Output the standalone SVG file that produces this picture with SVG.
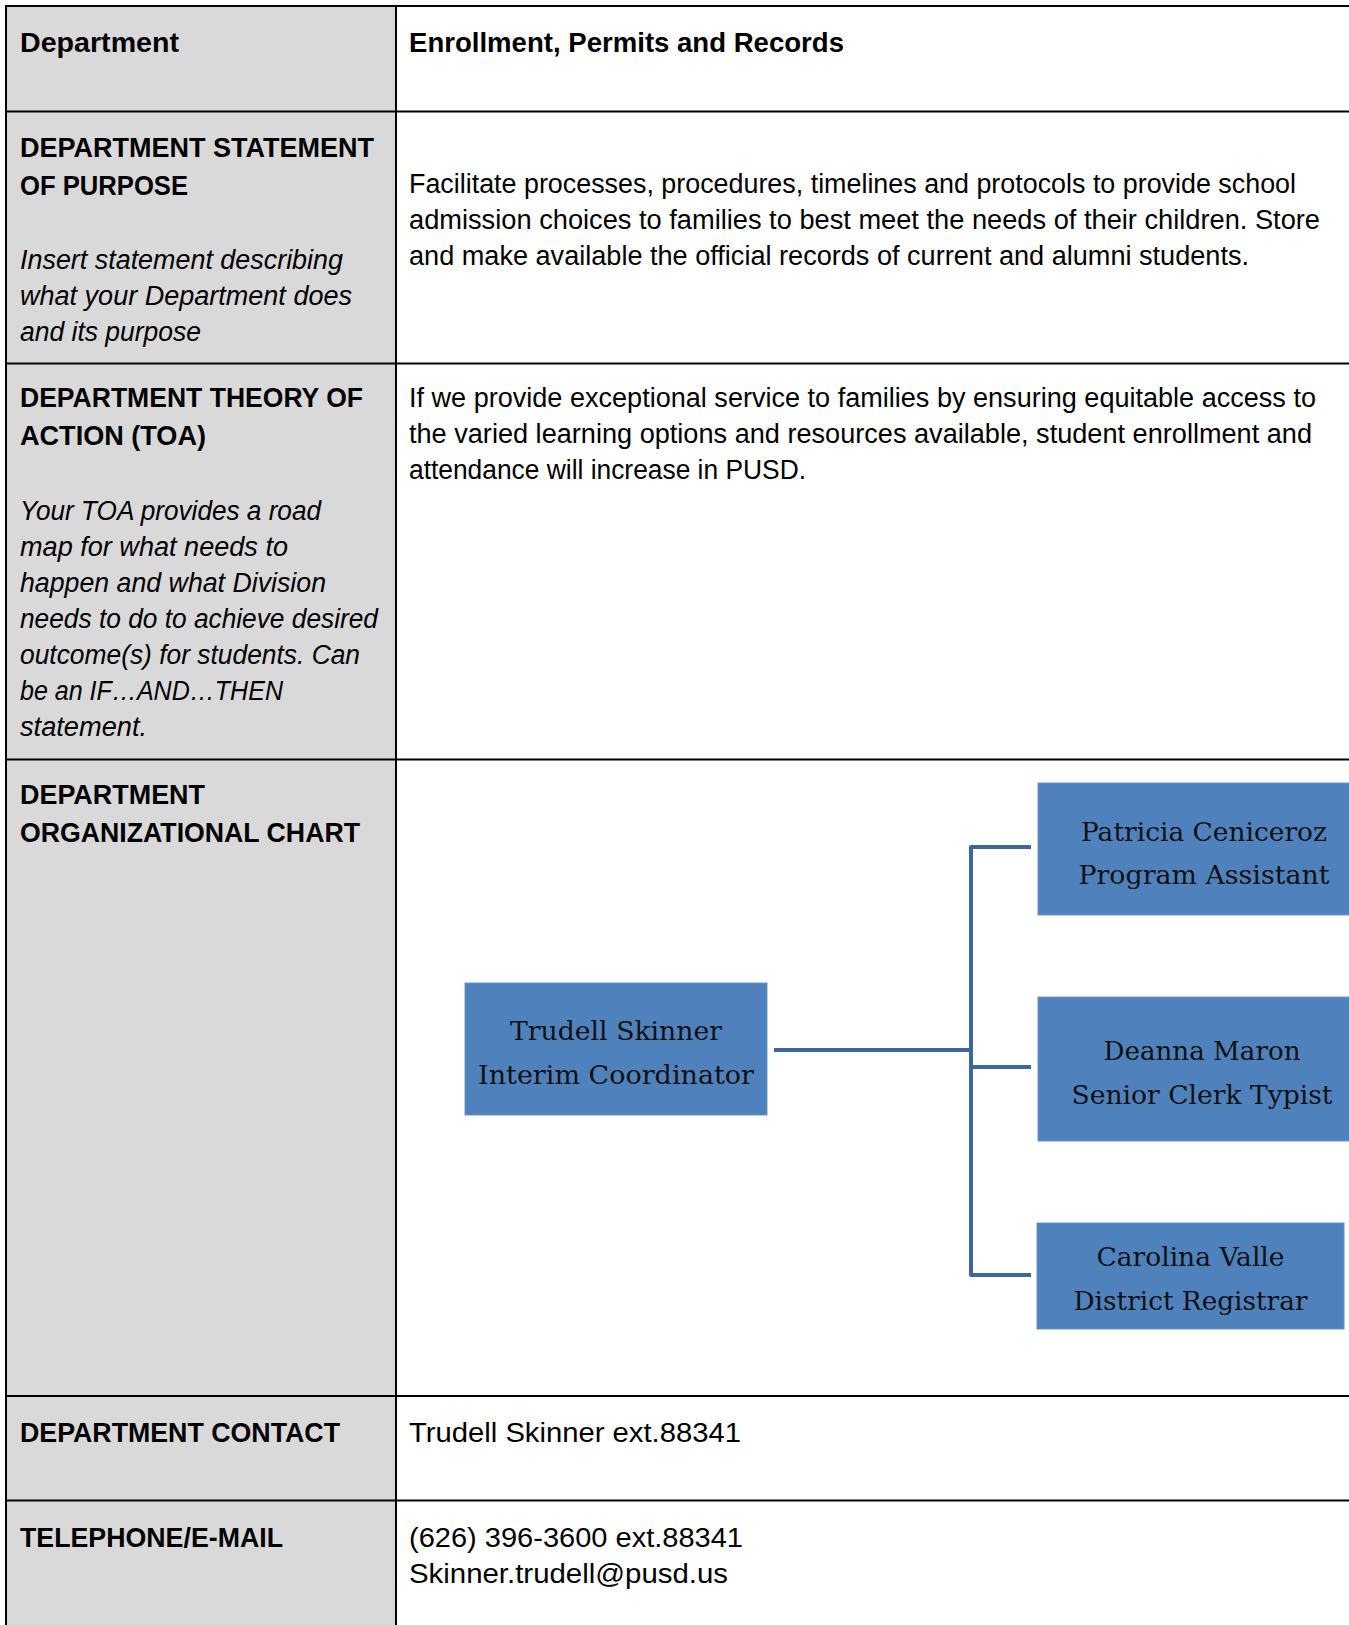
<svg xmlns="http://www.w3.org/2000/svg" width="1349" height="1625" viewBox="0 0 1349 1625">
<style>
.h{font-family:"Liberation Sans",Arial,sans-serif;font-weight:bold;font-size:27px;fill:#000}
.t{font-family:"Liberation Sans",Arial,sans-serif;font-size:27px;fill:#000}
.i{font-family:"Liberation Sans",Arial,sans-serif;font-style:italic;font-size:27px;fill:#000}
.b{font-family:"DejaVu Serif","Liberation Serif",serif;font-size:26.5px;fill:#111;text-anchor:middle}
.grid{stroke:#000;stroke-width:2;fill:none}
.box{fill:#4f81bd;stroke:#6b95c8;stroke-width:1}
.con{stroke:#3d679b;stroke-width:4;fill:none;stroke-linejoin:round}
</style>
<rect x="0" y="0" width="1349" height="1625" fill="#fff"/>
<g id="table">
<rect x="6" y="6" width="390" height="1619" fill="#d9d9d9"/>
<path class="grid" d="M5,6 H1349 M6,5 V1625 M396,6 V1625 M6,111.5 H1349 M6,363.5 H1349 M6,759.5 H1349 M6,1396 H1349 M6,1500.5 H1349"/>
</g>
<g id="row-department">
<text class="h" x="20" y="52" textLength="159" lengthAdjust="spacingAndGlyphs">Department</text>
<text class="h" x="409" y="52" textLength="435" lengthAdjust="spacingAndGlyphs">Enrollment, Permits and Records</text>
</g>
<g id="row-purpose">
<text class="h" x="20" y="156.5" textLength="354" lengthAdjust="spacingAndGlyphs">DEPARTMENT STATEMENT</text>
<text class="h" x="20" y="194.5" textLength="168" lengthAdjust="spacingAndGlyphs">OF PURPOSE</text>
<text class="i" x="20" y="268.5" textLength="323" lengthAdjust="spacingAndGlyphs">Insert statement describing</text>
<text class="i" x="20" y="304.5" textLength="332" lengthAdjust="spacingAndGlyphs">what your Department does</text>
<text class="i" x="20" y="340.5" textLength="181" lengthAdjust="spacingAndGlyphs">and its purpose</text>
<text class="t" x="409" y="192.5" textLength="887" lengthAdjust="spacingAndGlyphs">Facilitate processes, procedures, timelines and protocols to provide school</text>
<text class="t" x="409" y="228.5" textLength="911" lengthAdjust="spacingAndGlyphs">admission choices to families to best meet the needs of their children.  Store</text>
<text class="t" x="409" y="264.5" textLength="840" lengthAdjust="spacingAndGlyphs">and make available the official records of current and alumni students.</text>
</g>
<g id="row-toa">
<text class="h" x="20" y="407" textLength="343" lengthAdjust="spacingAndGlyphs">DEPARTMENT THEORY OF</text>
<text class="h" x="20" y="445" textLength="186" lengthAdjust="spacingAndGlyphs">ACTION (TOA)</text>
<text class="i" x="20" y="520" textLength="301" lengthAdjust="spacingAndGlyphs">Your TOA provides a road</text>
<text class="i" x="20" y="556" textLength="268" lengthAdjust="spacingAndGlyphs">map for what needs to</text>
<text class="i" x="20" y="592" textLength="306" lengthAdjust="spacingAndGlyphs">happen and what Division</text>
<text class="i" x="20" y="628" textLength="358" lengthAdjust="spacingAndGlyphs">needs to do to achieve desired</text>
<text class="i" x="20" y="664" textLength="340" lengthAdjust="spacingAndGlyphs">outcome(s) for students. Can</text>
<text class="i" x="20" y="700" textLength="263" lengthAdjust="spacingAndGlyphs">be an IF…AND…THEN</text>
<text class="i" x="20" y="736" textLength="127" lengthAdjust="spacingAndGlyphs">statement.</text>
<text class="t" x="409" y="407" textLength="907" lengthAdjust="spacingAndGlyphs">If we provide exceptional service to families by ensuring equitable access  to</text>
<text class="t" x="409" y="443" textLength="903" lengthAdjust="spacingAndGlyphs">the varied learning options and resources available, student enrollment and</text>
<text class="t" x="409" y="478.5" textLength="397" lengthAdjust="spacingAndGlyphs">attendance will increase in PUSD.</text>
</g>
<g id="row-org">
<text class="h" x="20" y="804" textLength="185" lengthAdjust="spacingAndGlyphs">DEPARTMENT</text>
<text class="h" x="20" y="842" textLength="340" lengthAdjust="spacingAndGlyphs">ORGANIZATIONAL CHART</text>
</g>
<g id="connectors">
<path class="con" d="M774,1050 H971"/>
<path class="con" d="M1031,847 H971 V1275 H1031"/>
<path class="con" d="M971,1067 H1031"/>
</g>
<g id="node-trudell">
<rect class="box" x="465" y="983" width="302" height="132"/>
<text class="b" x="616" y="1040" textLength="212" lengthAdjust="spacingAndGlyphs">Trudell Skinner</text>
<text class="b" x="616" y="1084" textLength="276" lengthAdjust="spacingAndGlyphs">Interim Coordinator</text>
</g>
<g id="node-patricia">
<rect class="box" x="1038" y="783" width="330" height="132"/>
<text class="b" x="1204" y="840.5" textLength="246" lengthAdjust="spacingAndGlyphs">Patricia Ceniceroz</text>
<text class="b" x="1204" y="883.5" textLength="251" lengthAdjust="spacingAndGlyphs">Program Assistant</text>
</g>
<g id="node-deanna">
<rect class="box" x="1038" y="997" width="330" height="144"/>
<text class="b" x="1202" y="1059.5" textLength="197" lengthAdjust="spacingAndGlyphs">Deanna Maron</text>
<text class="b" x="1202" y="1103.5" textLength="261" lengthAdjust="spacingAndGlyphs">Senior Clerk Typist</text>
</g>
<g id="node-carolina">
<rect class="box" x="1037" y="1223" width="307" height="106"/>
<text class="b" x="1190.5" y="1265.5" textLength="188" lengthAdjust="spacingAndGlyphs">Carolina Valle</text>
<text class="b" x="1190.5" y="1310" textLength="234" lengthAdjust="spacingAndGlyphs">District Registrar</text>
</g>
<g id="row-contact">
<text class="h" x="20" y="1442" textLength="320" lengthAdjust="spacingAndGlyphs">DEPARTMENT CONTACT</text>
<text class="t" x="409" y="1442" textLength="332" lengthAdjust="spacingAndGlyphs">Trudell Skinner ext.88341</text>
</g>
<g id="row-telephone">
<text class="h" x="20" y="1546.5" textLength="263" lengthAdjust="spacingAndGlyphs">TELEPHONE/E-MAIL</text>
<text class="t" x="409" y="1546.5" textLength="334" lengthAdjust="spacingAndGlyphs">(626) 396-3600 ext.88341</text>
<text class="t" x="409" y="1582.5" textLength="319" lengthAdjust="spacingAndGlyphs">Skinner.trudell@pusd.us</text>
</g>
</svg>
